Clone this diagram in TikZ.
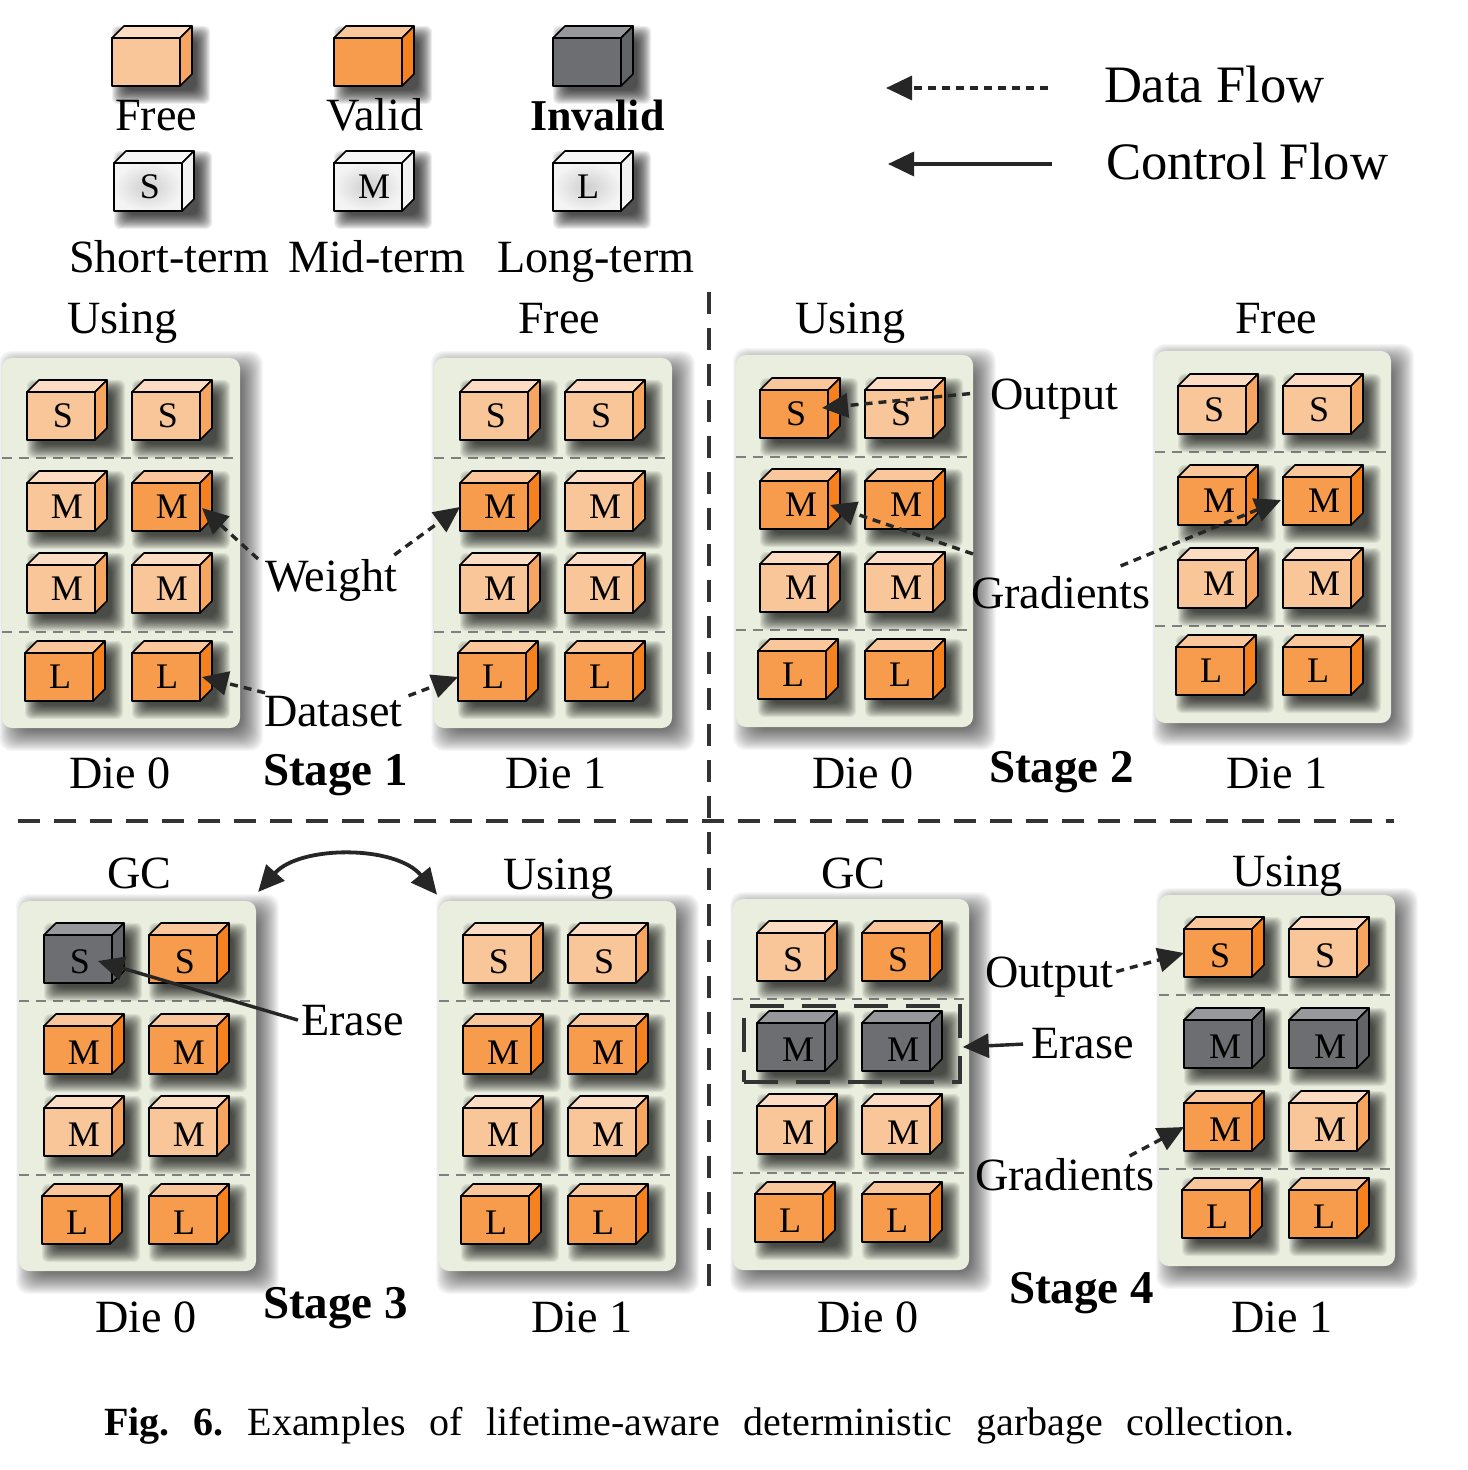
\documentclass[tikz,border=0pt]{standalone}
\usepackage{fontspec}
\setmainfont{Liberation Serif}
\usetikzlibrary{arrows.meta}
\definecolor{ffront}{HTML}{F9C699}\definecolor{ftop}{HTML}{FCDDC4}\definecolor{fside}{HTML}{F7A661}
\definecolor{vfront}{HTML}{F79C4D}\definecolor{vtop}{HTML}{F9C79B}\definecolor{vside}{HTML}{F5821F}
\definecolor{ifront}{HTML}{6D6E71}\definecolor{itop}{HTML}{97989B}\definecolor{iside}{HTML}{636467}
\definecolor{wtop}{HTML}{F6F6F6}\definecolor{wside}{HTML}{F2F2F2}
\definecolor{wmid}{HTML}{CFCFCF}\definecolor{wedge}{HTML}{F4F4F4}
\definecolor{panelc}{HTML}{E9EEDE}
\tikzset{
  facestyle/.style={draw=black,line width=0.8pt,line join=round},
  fcube/.style={fill=ffront},
  vcube/.style={fill=vfront},
  icube/.style={fill=ifront},
  wcube/.style={shade,shading=radial,inner color=wmid,outer color=wedge},
  cubefront/.style={facestyle,minimum width=34pt,minimum height=24pt,inner sep=0pt,outer sep=0pt,font=\fontsize{18}{18}\selectfont},
  lbl/.style={anchor=base west,inner sep=0pt,outer sep=0pt,yshift=1pt,font=\fontsize{23.1}{23.1}\selectfont},
  lblbig/.style={lbl,yshift=-0.5pt,font=\fontsize{26.3}{26.3}\selectfont},
  lblbold/.style={lbl,font=\fontsize{23.5}{23.5}\selectfont\bfseries},
  tierline/.style={draw=gray,line width=1pt,dash pattern=on 5pt off 3.5pt},
  divider/.style={draw=black!80,line width=1.8pt,dash pattern=on 11pt off 7pt},
  dataflow/.style={draw=black!85,line width=1.7pt,dash pattern=on 4pt off 3pt,-{Triangle[length=13pt,width=12pt]}},
  ctrlflow/.style={draw=black!85,line width=1.7pt,-{Triangle[length=13pt,width=12pt]}},
}
\newcommand{\cubeshadow}[2]{%
  \foreach \k in {0,...,14}{%
    \fill[black,opacity=.07,rounded corners=3pt]
      ({#1+14-\k},{#2+2-\k}) rectangle ({#1+84+\k},{#2+52+\k});}}
\newcommand{\cube}[5]{%
  \cubeshadow{#2}{#3}%
  \draw[facestyle,fill=#4top] (#2,#3) -- ++(12,-12) -- ++(68,0) -- ++(-12,12) -- cycle;
  \draw[facestyle,fill=#4side] ({#2+68},#3) -- ++(12,-12) -- ++(0,48) -- ++(-12,12) -- cycle;
  \node[cubefront,#4cube] (#1) at ({#2+34},{#3+24}) {#5};}
\def\lv{0pt}\def\Mh{6pt}
\newcommand{\Slab}{\raisebox{\lv}[\height][\depth]{\hspace*{2pt}S}}
\newcommand{\Mlab}{\raisebox{\lv}[\height][\depth]{\hspace*{\Mh}M}}
\newcommand{\Llab}{\raisebox{\lv}[\height][\depth]{\hspace*{1pt}L}}
\newcommand{\panel}[7]{%
  \foreach \k in {0,...,23}{%
    \fill[black,opacity=.03,rounded corners=6pt]
      ({#2+20-\k},{#3+16-\k}) rectangle ({#4+\k},{#5+\k});}
  \node[fill=panelc,rounded corners=5pt,inner sep=0pt,outer sep=0pt,minimum width={(#4-#2)*0.5pt},minimum height={(#5-#3)*0.5pt}] (#1) at ({(#2+#4)/2},{(#3+#5)/2}) {};
  \draw[tierline] (#2,#6) -- (#4,#6);
  \draw[tierline] (#2,#7) -- (#4,#7);}
\newcommand{\grid}[8]{\gridb{#1}{#2}{#3}{#4}{#5}{#6}{#7}{#8}}
\newcommand{\gridb}[8]{\def\pa{#1}\def\xa{#2}\def\xb{#3}\def\xl{#4}\def\ra{#5}\def\rb{#6}\def\rc{#7}\def\rd{#8}\gridc}
\newcommand{\gridc}[8]{%
  \cube{\pa sa}{\xa}{\ra}{#1}{\Slab}\cube{\pa sb}{\xb}{\ra}{#2}{\Slab}
  \cube{\pa ma}{\xa}{\rb}{#3}{\Mlab}\cube{\pa mb}{\xb}{\rb}{#4}{\Mlab}
  \cube{\pa na}{\xa}{\rc}{#5}{\Mlab}\cube{\pa nb}{\xb}{\rc}{#6}{\Mlab}
  \cube{\pa la}{\xl}{\rd}{#7}{\Llab}\cube{\pa lb}{\xb}{\rd}{#8}{\Llab}}
\begin{document}
\begin{tikzpicture}[x=0.5pt,y=-0.5pt]
\fill[white] (0,0) rectangle (1467,1470);
\useasboundingbox (0,0) rectangle (1467,1470);

% legend
\cube{lfree}{112}{38}{f}{}
\cube{lvalid}{334}{38}{v}{}
\cube{linvalid}{553}{38}{i}{}
\cube{lshort}{114}{163}{w}{\Slab}
\cube{lmid}{334}{163}{w}{\Mlab}
\cube{llong}{553}{163}{w}{\Llab}
\node[lbl] (tfree) at (115,133) {Free};
\node[lbl] (tvalid) at (326,133) {Valid};
\node[lbl,font=\fontsize{22}{22}\selectfont\bfseries] (tinvalid) at (530,133) {Invalid};
\node[lbl] (tshort) at (69,275) {Short-term};
\node[lbl] (tmid) at (288,275) {Mid-term};
\node[lbl] (tlong) at (497,275) {Long-term};
\node[lblbig] (tdata) at (1104,104) {Data Flow};
\node[lblbig] (tctrl) at (1106,181) {Control Flow};
\coordinate (da) at (1048,88);\coordinate (db) at (886,88);
\coordinate (ca) at (1052,164);\coordinate (cb) at (888,164);
\draw[dataflow] (da) -- (db);
\draw[ctrlflow] (ca) -- (cb);

% dividers
\coordinate (va) at (709,292);\coordinate (vb) at (709,1292);
\coordinate (ha) at (18,821);\coordinate (hb) at (1394,821);
\draw[divider] (va) -- (vb);
\draw[divider] (ha) -- (hb);

% Stage 1
\panel{p1a}{2}{358}{240}{728}{458}{632}
\panel{p1b}{434}{358}{672}{728}{458}{632}
\grid{oa}{27}{132}{25}{392}{483}{565}{653}{f}{f}{f}{v}{f}{f}{v}{v}
\grid{ob}{460}{565}{458}{392}{483}{565}{653}{f}{f}{v}{f}{f}{f}{v}{v}
\node[lbl] (t1u) at (67,336) {Using};
\node[lbl] (t1f) at (518,336) {Free};
\node[lbl] (t1d) at (69,790) {Die 0};
\node[lbl] (t1e) at (505,790) {Die 1};
\node[lblbold] (t1s) at (263,787) {Stage 1};
\node[lbl] (weight) at (265,593) {Weight};
\node[lbl] (dataset) at (264,728) {Dataset};
\draw[dataflow] ([shift={(-7,0)}]weight.north west) -- ([shift={(2,1)}]oamb.east);
\draw[dataflow] ([shift={(-3,-4)}]weight.north east) -- (obma.west);
\draw[dataflow] ([shift={(1,-3)}]dataset.north west) -- ([shift={(2,0)}]oalb.east);
\draw[dataflow] ([shift={(6,0)}]dataset.north east) -- (obla.west);

% Stage 2
\def\Mh{7pt}
\panel{p2a}{736}{355}{973}{727}{457}{630}
\panel{p2b}{1155}{351}{1391}{723}{452}{626}
\grid{pa}{760}{865}{758}{390}{481}{564}{651}{v}{f}{v}{v}{f}{f}{v}{v}
\grid{pb}{1178}{1283}{1176}{386}{477}{560}{647}{f}{f}{v}{v}{f}{f}{v}{v}
\node[lbl] (t2u) at (795,336) {Using};
\node[lbl] (t2f) at (1235,336) {Free};
\node[lbl] (t2d) at (812,790) {Die 0};
\node[lbl] (t2e) at (1226,790) {Die 1};
\node[lblbold] (t2s) at (989,784) {Stage 2};
\node[lbl] (out2) at (990,411) {Output};
\node[lbl] (grad2) at (971,610) {Gradients};
\draw[dataflow] ([shift={(-20,-5)}]out2.west) -- ([shift={(-6,-6)}]pasa.east);
\draw[dataflow] ([shift={(2,-22)}]grad2.north west) -- ([shift={(2,0)}]pama.east);
\draw[dataflow] ([shift={(-30,-10)}]grad2.north east) -- ([shift={(-2,-1)}]pbmb.west);

% Stage 3
\def\Mh{6pt}\def\lv{-1.2pt}
\panel{p3a}{19}{901}{256}{1271}{1001}{1175}
\panel{p3b}{439}{901}{676}{1271}{1001}{1175}
\grid{qa}{44}{149}{42}{935}{1026}{1108}{1196}{i}{v}{v}{v}{f}{f}{v}{v}
\grid{qb}{463}{568}{461}{935}{1026}{1108}{1196}{f}{f}{v}{v}{f}{f}{v}{v}
\node[lbl] (t3g) at (107,890) {GC};
\node[lbl] (t3u) at (503,891) {Using};
\node[lbl] (t3d) at (95,1334) {Die 0};
\node[lbl] (t3e) at (531,1334) {Die 1};
\node[lblbold] (t3s) at (263,1320) {Stage 3};
\node[lbl] (erase3) at (301,1037) {Erase};
\draw[draw=black!85,line width=1.9pt,{Triangle[length=13pt,width=12pt]}-{Triangle[length=13pt,width=12pt]}]
  ([shift={(87,19)}]t3g.east) .. controls (300,845) and (396,845) .. ([shift={(-66,16)}]t3u.west);
\draw[ctrlflow] ([shift={(-3,0)}]erase3.west) -- ([shift={(20,2)}]qasa.center);

% Stage 4
\def\Mh{7pt}
\panel{p4a}{733}{899}{969}{1270}{999}{1173}
\panel{p4b}{1159}{895}{1395}{1266}{995}{1169}
\grid{ra}{757}{862}{755}{933}{1023}{1106}{1194}{f}{v}{i}{i}{f}{f}{v}{v}
\grid{rb}{1184}{1289}{1182}{929}{1020}{1103}{1190}{v}{f}{i}{i}{v}{f}{v}{v}
\node[lbl] (t4g) at (821,890) {GC};
\node[lbl] (t4u) at (1232,888) {Using};
\node[lbl] (t4d) at (817,1334) {Die 0};
\node[lbl] (t4e) at (1231,1334) {Die 1};
\node[lblbold] (t4s) at (1009,1305) {Stage 4};
\node[lbl] (out4) at (985,989) {Output};
\node[lbl] (erase4) at (1031,1060) {Erase};
\node[lbl] (grad4) at (975,1192) {Gradients};
\node[draw=black!80,line width=1.8pt,dash pattern=on 17pt off 9pt,inner sep=0pt,minimum width=108pt,minimum height=38pt] (ebox) at (852,1044) {};
\draw[dataflow] ([shift={(3,-5)}]out4.east) -- (rbsa.west);
\draw[ctrlflow] ([shift={(-8,1)}]erase4.west) -- ([shift={(1,3)}]ebox.east);
\draw[dataflow] ([shift={(-25,-2)}]grad4.north east) -- (rbna.west);

% caption
\node[anchor=base west,inner sep=0pt] (caption) at (104,1435) {\makebox[595pt][s]{\fontsize{20}{20}\selectfont\textbf{Fig.\ 6.}\hspace{0.6em}Examples of lifetime-aware deterministic garbage collection.}};
\end{tikzpicture}
\end{document}
